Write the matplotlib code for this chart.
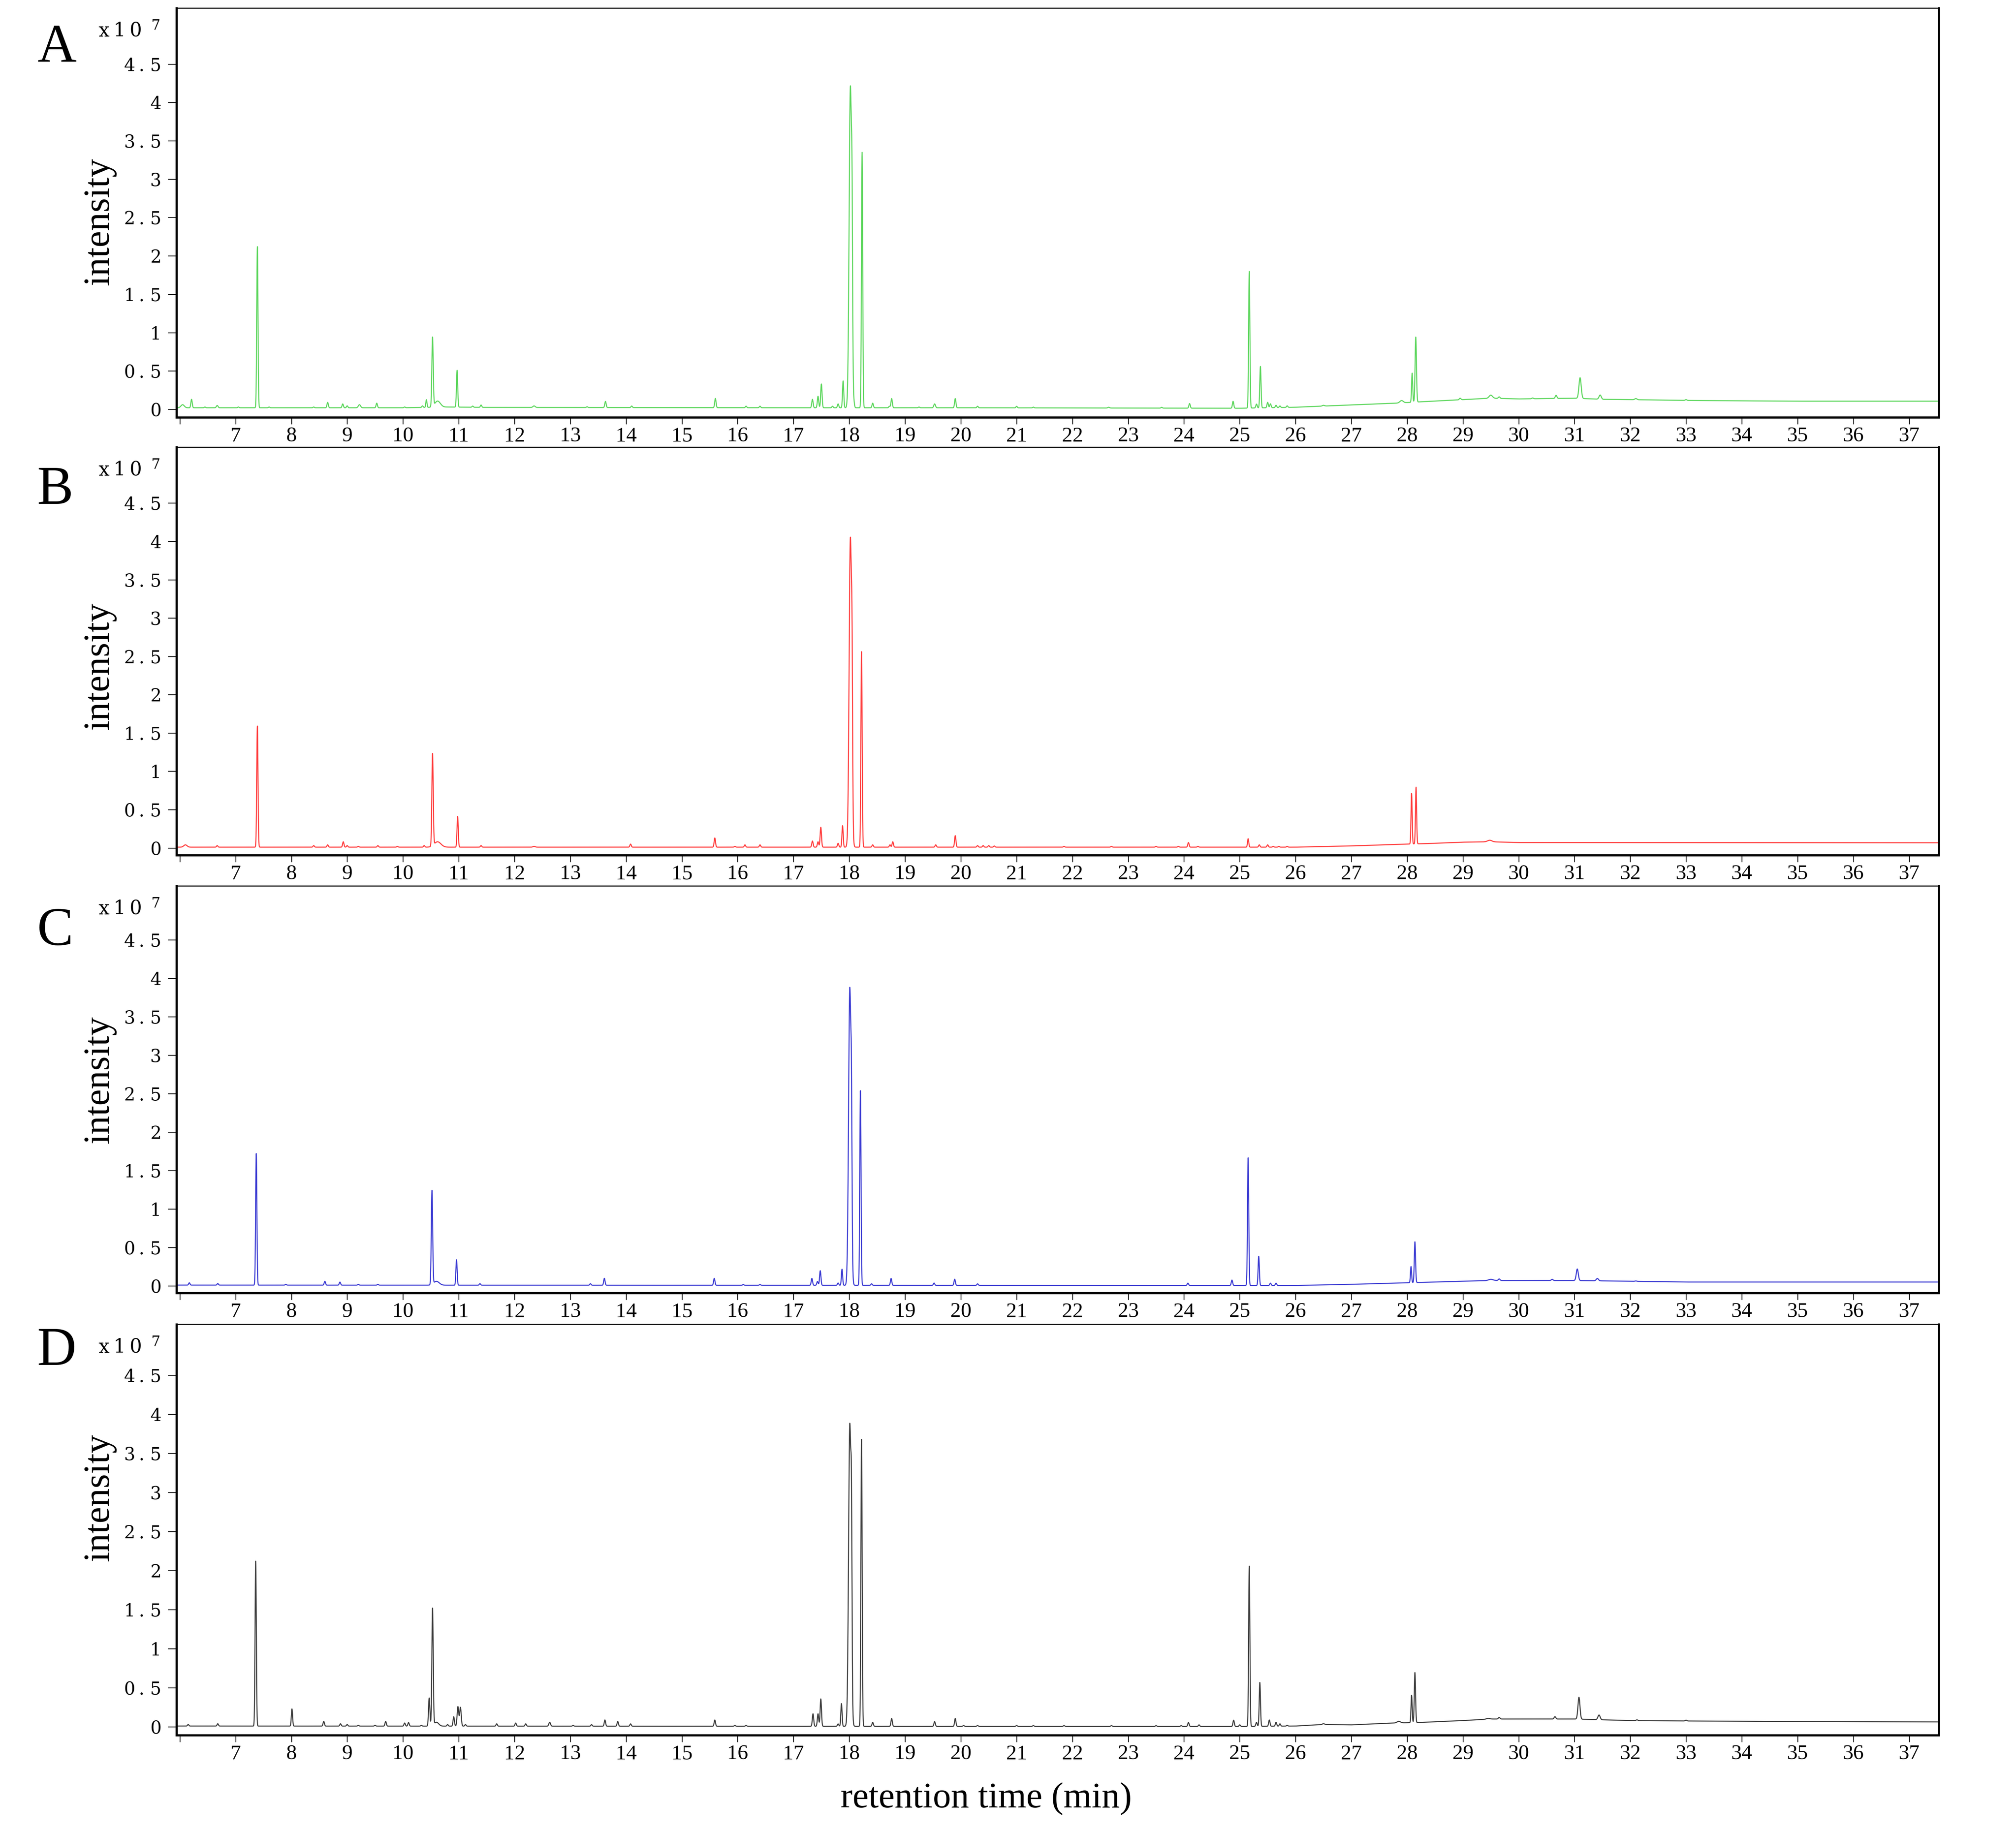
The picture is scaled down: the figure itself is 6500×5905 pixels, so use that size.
import numpy as np
import matplotlib
matplotlib.use('Agg')
import matplotlib.pyplot as plt

# ---------------- data ----------------
panel_labels = ['A', 'B', 'C', 'D']
line_colors = ['#5cd65c', '#ff3c3c', '#3a3ad2', '#3c3c3c']

x_ticks = list(range(6, 38))
x_tick_labels = [''] + [str(t) for t in range(7, 38)]
y_ticks = [0, 0.5, 1, 1.5, 2, 2.5, 3, 3.5, 4, 4.5]
y_tick_labels = ['0', '0\u2009. 5', '1', '1\u2009. 5', '2', '2\u2009. 5',
                 '3', '3\u2009. 5', '4', '4\u2009. 5']
y_unit_base = 'x\u20091\u20090'
y_unit_exp = '7'
x_label = 'retention time (min)'
y_label = 'intensity'

# Panel A (green): retention time (min), height (x10^7), width (sigma, min)
A_rt = [6.05, 6.21, 6.45, 6.67, 7.05, 7.39, 7.6, 8.4, 8.65, 8.92, 9.0, 9.22, 9.53,
        10.03, 10.35, 10.42, 10.53, 10.62, 10.97, 11.25, 11.4, 12.35, 13.3, 13.63,
        14.1, 15.6, 16.15, 16.4, 17.34, 17.44, 17.5, 17.7, 17.8, 17.89, 18.02, 18.05,
        18.08, 18.23, 18.42, 18.72, 18.76, 19.25, 19.53, 19.9, 20.3, 21.0, 21.3,
        22.65, 23.6, 24.1, 24.88, 25.17, 25.3, 25.37, 25.5, 25.55, 25.65, 25.72,
        25.85, 26.5, 27.9, 28.09, 28.155, 28.95, 29.5, 29.65, 30.25, 30.67, 31.1,
        31.46, 32.1, 33.0]
A_h = [0.04, 0.11, 0.01, 0.03, 0.01, 2.10, 0.01, 0.01, 0.07, 0.05, 0.025, 0.04, 0.06,
       0.01, 0.02, 0.10, 0.90, 0.08, 0.48, 0.015, 0.03, 0.02, 0.01, 0.08,
       0.02, 0.12, 0.02, 0.02, 0.11, 0.15, 0.31, 0.02, 0.05, 0.35, 4.18, 1.5,
       0.06, 3.33, 0.06, 0.02, 0.12, 0.01, 0.05, 0.12, 0.02, 0.02, 0.01,
       0.01, 0.01, 0.06, 0.09, 1.78, 0.05, 0.54, 0.07, 0.05, 0.03, 0.02,
       0.02, 0.01, 0.03, 0.38, 0.85, 0.02, 0.04, 0.02, 0.01, 0.04, 0.27,
       0.055, 0.015, 0.01]
A_w = [0.03, 0.012, 0.012, 0.015, 0.012, 0.011, 0.012, 0.012, 0.012, 0.012, 0.012, 0.02, 0.012,
       0.012, 0.012, 0.01, 0.012, 0.05, 0.011, 0.012, 0.012, 0.02, 0.012, 0.012,
       0.012, 0.012, 0.012, 0.012, 0.012, 0.012, 0.012, 0.012, 0.012, 0.011, 0.022, 0.01,
       0.012, 0.011, 0.012, 0.012, 0.012, 0.012, 0.015, 0.012, 0.012, 0.012, 0.012,
       0.015, 0.012, 0.012, 0.012, 0.011, 0.012, 0.011, 0.012, 0.012, 0.012, 0.012,
       0.012, 0.02, 0.03, 0.01, 0.012, 0.015, 0.03, 0.015, 0.015, 0.015, 0.02,
       0.02, 0.02, 0.015]
A_base_t = [5.94, 7.0, 10.0, 10.8, 11.5, 17.0, 20.0, 25.0, 26.0, 27.0, 27.8, 28.3,
            29.0, 29.5, 30.0, 31.0, 31.5, 32.0, 33.0, 34.0, 35.0, 37.53]
A_base_v = [0.02, 0.02, 0.02, 0.03, 0.025, 0.02, 0.02, 0.014, 0.027, 0.057, 0.08, 0.10,
            0.126, 0.145, 0.135, 0.145, 0.13, 0.126, 0.116, 0.11, 0.106, 0.106]

# Panel B (red)
B_rt = [6.1, 6.67, 7.39, 8.4, 8.65, 8.93, 9.0, 9.2, 9.55, 9.9, 10.38, 10.53, 10.62,
        10.98, 11.4, 12.35, 14.08, 15.59, 15.95, 16.13, 16.4, 17.34, 17.44, 17.49,
        17.8, 17.88, 18.02, 18.05, 18.22, 18.42, 18.73, 18.78, 19.55, 19.9, 20.3,
        20.4, 20.5, 20.6, 21.85, 22.7, 23.5, 23.9, 24.08, 24.25, 25.15, 25.35, 25.5,
        25.6, 25.7, 25.85, 28.08, 28.16, 29.48]
B_h = [0.03, 0.02, 1.58, 0.02, 0.03, 0.07, 0.02, 0.01, 0.02, 0.01, 0.02, 1.20, 0.07,
       0.40, 0.02, 0.01, 0.04, 0.12, 0.01, 0.03, 0.03, 0.08, 0.07, 0.26,
       0.05, 0.28, 4.03, 1.4, 2.55, 0.03, 0.03, 0.07, 0.03, 0.15, 0.02,
       0.02, 0.02, 0.015, 0.01, 0.01, 0.01, 0.01, 0.06, 0.01, 0.11, 0.03, 0.03,
       0.01, 0.01, 0.01, 0.66, 0.74, 0.02]
B_w = [0.03, 0.012, 0.011, 0.012, 0.012, 0.012, 0.012, 0.012, 0.012, 0.012, 0.012, 0.012, 0.06,
       0.011, 0.012, 0.02, 0.012, 0.012, 0.012, 0.012, 0.012, 0.012, 0.012, 0.012,
       0.012, 0.011, 0.022, 0.01, 0.011, 0.012, 0.012, 0.012, 0.012, 0.012, 0.012,
       0.012, 0.012, 0.012, 0.012, 0.012, 0.012, 0.012, 0.012, 0.012, 0.011, 0.012, 0.012,
       0.012, 0.012, 0.012, 0.01, 0.01, 0.04]
B_base_t = [5.94, 25.0, 26.0, 27.0, 28.0, 28.3, 29.0, 29.5, 30.0, 37.53]
B_base_v = [0.01, 0.01, 0.01, 0.026, 0.05, 0.055, 0.075, 0.08, 0.07, 0.067]

# Panel C (blue)
C_rt = [6.17, 6.68, 7.37, 7.9, 8.6, 8.87, 9.2, 9.55, 10.52, 10.6, 10.96, 11.38,
        13.36, 13.61, 15.58, 16.1, 16.4, 17.33, 17.43, 17.48, 17.8, 17.87, 18.01,
        18.04, 18.2, 18.4, 18.75, 19.52, 19.89, 20.3, 24.07, 24.86, 25.15, 25.34,
        25.55, 25.65, 28.07, 28.14, 29.5, 29.65, 30.6, 31.05, 31.41, 32.1]
C_h = [0.03, 0.02, 1.71, 0.01, 0.05, 0.04, 0.01, 0.01, 1.22, 0.05, 0.33, 0.02,
       0.02, 0.09, 0.09, 0.01, 0.01, 0.09, 0.05, 0.19, 0.03, 0.21, 3.86,
       1.3, 2.53, 0.02, 0.09, 0.03, 0.08, 0.02, 0.03, 0.07, 1.66, 0.38,
       0.03, 0.03, 0.21, 0.53, 0.015, 0.02, 0.015, 0.15, 0.03, 0.005]
C_w = [0.012, 0.012, 0.011, 0.012, 0.012, 0.012, 0.012, 0.012, 0.012, 0.05, 0.011, 0.012,
       0.012, 0.012, 0.012, 0.012, 0.012, 0.012, 0.012, 0.012, 0.012, 0.011, 0.022,
       0.01, 0.011, 0.012, 0.012, 0.012, 0.012, 0.012, 0.012, 0.012, 0.011, 0.011,
       0.012, 0.012, 0.01, 0.011, 0.04, 0.015, 0.015, 0.018, 0.02, 0.015]
C_base_t = [5.94, 26.0, 27.0, 28.0, 29.0, 29.5, 31.0, 32.0, 33.0, 37.53]
C_base_v = [0.01, 0.005, 0.02, 0.04, 0.06, 0.07, 0.07, 0.06, 0.05, 0.05]

# Panel D (black)
D_rt = [6.15, 6.68, 7.36, 8.01, 8.58, 8.88, 9.0, 9.2, 9.5, 9.69, 10.03, 10.1, 10.33,
        10.47, 10.53, 10.6, 10.8, 10.91, 10.985, 11.03, 11.12, 11.68, 12.02, 12.2,
        12.63, 13.05, 13.38, 13.62, 13.85, 14.08, 15.59, 15.95, 16.15, 17.35, 17.44,
        17.49, 17.8, 17.86, 18.01, 18.04, 18.22, 18.42, 18.76, 19.53, 19.9, 20.05,
        20.3, 21.0, 21.3, 21.85, 22.7, 23.5, 23.95, 24.08, 24.27, 24.89, 25.0, 25.17,
        25.3, 25.36, 25.53, 25.65, 25.72, 25.85, 26.5, 27.85, 28.08, 28.14, 29.45,
        29.65, 30.65, 31.08, 31.44, 32.12, 33.0]
D_h = [0.02, 0.03, 2.11, 0.22, 0.06, 0.03, 0.02, 0.01, 0.01, 0.06, 0.04, 0.045, 0.01,
       0.36, 1.50, 0.05, 0.02, 0.12, 0.25, 0.24, 0.02, 0.03, 0.04, 0.03,
       0.05, 0.01, 0.02, 0.08, 0.06, 0.03, 0.08, 0.01, 0.01, 0.16, 0.16,
       0.35, 0.03, 0.29, 3.86, 1.6, 3.67, 0.05, 0.10, 0.06, 0.10, 0.01,
       0.01, 0.01, 0.01, 0.01, 0.01, 0.01, 0.01, 0.05, 0.02, 0.08, 0.02, 2.05,
       0.05, 0.56, 0.08, 0.05, 0.03, 0.01, 0.01, 0.02, 0.35, 0.64, 0.01,
       0.02, 0.03, 0.28, 0.06, 0.01, 0.01]
D_w = [0.012, 0.012, 0.011, 0.011, 0.012, 0.012, 0.012, 0.012, 0.012, 0.012, 0.012, 0.012, 0.012,
       0.012, 0.012, 0.04, 0.012, 0.012, 0.014, 0.014, 0.012, 0.012, 0.012, 0.012,
       0.015, 0.012, 0.012, 0.012, 0.012, 0.012, 0.012, 0.012, 0.012, 0.012, 0.012,
       0.012, 0.012, 0.011, 0.022, 0.01, 0.011, 0.012, 0.012, 0.012, 0.012, 0.012,
       0.012, 0.012, 0.012, 0.012, 0.012, 0.012, 0.012, 0.012, 0.012, 0.012, 0.012, 0.011,
       0.012, 0.011, 0.012, 0.012, 0.012, 0.012, 0.02, 0.03, 0.01, 0.011, 0.03,
       0.015, 0.015, 0.018, 0.02, 0.015, 0.015]
D_base_t = [5.94, 25.0, 26.0, 26.5, 27.0, 27.8, 28.2, 29.0, 29.5, 31.0, 31.5, 32.0,
            33.0, 35.0, 37.53]
D_base_v = [0.01, 0.005, 0.01, 0.03, 0.025, 0.05, 0.055, 0.08, 0.10, 0.10, 0.09, 0.08,
            0.075, 0.067, 0.063]

panels = [
    (A_rt, A_h, A_w, A_base_t, A_base_v),
    (B_rt, B_h, B_w, B_base_t, B_base_v),
    (C_rt, C_h, C_w, C_base_t, C_base_v),
    (D_rt, D_h, D_w, D_base_t, D_base_v),
]

# ---------------- layout (pixels of the 6500 x 5905 canvas) ----------------
W, H = 6500, 5905
ax_left, ax_right = 569, 6251
panel_tops = [26, 1442, 2857, 4271]
panel_bots = [1346, 2758, 4170, 5596]
panel_ylims = [(-0.105, 5.23), (-0.095, 5.23), (-0.093, 5.20), (-0.107, 5.15)]
ylabel_centers = [714, 2148, 3482, 4829]
letter_baselines = [199, 1625, 3047, 4402]
xlim = (5.94, 37.53)

fig = plt.figure(figsize=(W / 100, H / 100), dpi=100)
fig.patch.set_facecolor('white')

serif_tnr = ['Liberation Serif', 'DejaVu Serif']
serif_wide = ['DejaVu Serif', 'DejaVu Sans']

t = np.arange(xlim[0], xlim[1] + 0.002, 0.002)

for i, (rt, hh, ww, bt, bv) in enumerate(panels):
    top, bot = panel_tops[i], panel_bots[i]
    ax = fig.add_axes([ax_left / W, 1 - bot / H, (ax_right - ax_left) / W, (bot - top) / H])
    y = np.interp(t, bt, bv)
    for r, h, w in zip(rt, hh, ww):
        y = y + h * np.exp(-0.5 * ((t - r) / w) ** 2)
    ax.plot(t, y, color=line_colors[i], lw=2.4, solid_joinstyle='round')
    ax.set_xlim(*xlim)
    ax.set_ylim(*panel_ylims[i])

    ax.set_xticks(x_ticks)
    ax.set_xticklabels(x_tick_labels, fontfamily=serif_tnr, fontsize=49)
    ax.set_yticks(y_ticks)
    ax.set_yticklabels(y_tick_labels, fontfamily=serif_wide, fontsize=41)
    ax.tick_params(axis='y', direction='out', length=20, width=1.8, pad=15, colors='black')
    ax.tick_params(axis='x', direction='out', length=16, width=1.8, pad=6, colors='black')

    for side in ['left', 'bottom', 'right']:
        ax.spines[side].set_linewidth(5)
    ax.spines['top'].set_linewidth(2.5)
    for s in ax.spines.values():
        s.set_color('black')

    # y label
    fig.text(321 / W, 1 - ylabel_centers[i] / H, y_label, rotation=90,
             ha='center', va='center', fontsize=86, fontfamily=serif_tnr)
    # panel letter
    fig.text(120 / W, 1 - letter_baselines[i] / H, panel_labels[i],
             ha='left', va='baseline', fontsize=126, fontfamily=serif_tnr)
    # unit "x10 7"
    fig.text(318 / W, 1 - (top + 92) / H, y_unit_base, ha='left', va='baseline',
             fontsize=45, fontfamily=serif_wide)
    fig.text(487 / W, 1 - (top + 70) / H, y_unit_exp, ha='left', va='baseline',
             fontsize=33, fontfamily=serif_wide)

fig.text(3180 / W, 1 - 5828 / H, x_label, ha='center', va='baseline',
         fontsize=84, fontfamily=serif_tnr)

fig.savefig('out.png', dpi=100, facecolor='white')
